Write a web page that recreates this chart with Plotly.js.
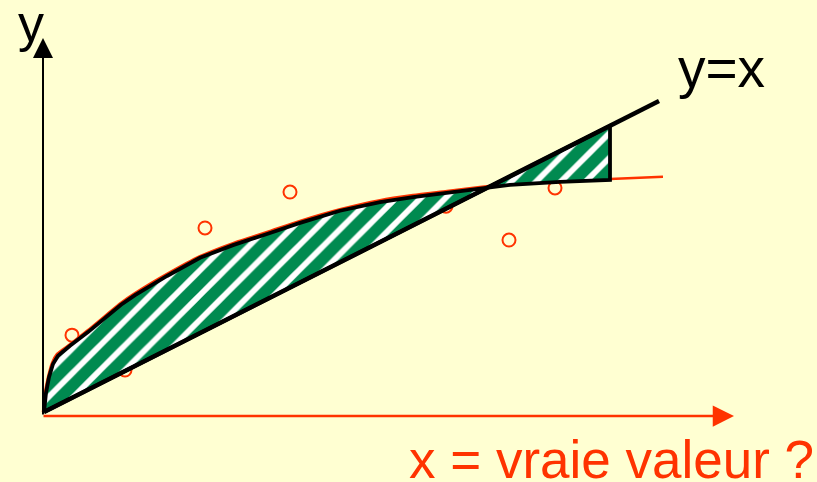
<!DOCTYPE html>
<html>
<head>
<meta charset="utf-8">
<script src="https://cdn.plot.ly/plotly-3.0.1.min.js"></script>
<style>html,body{margin:0;padding:0;background:#FFFFD2;}#chart{width:817px;height:482px;}</style>
</head>
<body>
<div id="chart"></div>
<script>
// Fitted curve (red) : x values and y values (units where the diagonal is y = x)
const curveX = [-1,1,4,8,13,26,44,61,77,91,123,156,189,223,256,296,336,369,403,436,466,516,566,619];
const curveY = [0,38,69,97,115,134,162,190,216,235,273,308,334,356,378,401,419,429,437,445,451,457,461,465];

// Upper edge of hatched area (outline of the curve)
const edgeX = [0,2,5,9,14,26,44,61,77,91,123,156,189,223,256,296,336,369,403,436,466,516,566];
const edgeY = [0,38,69,95,111,131,158,186,212,231,269,305,330,352,374,398,415,425,433,441,449,455,459];

// Measured points (open circles)
const pointsX = [28,81,161,246,402,465,511];
const pointsY = [152,83,364,435,407,340,443];

// Diagonal y = x
const diagX = [0,615];
const diagY = [0,615];

// Labels
const labelY = 'y';
const labelDiag = 'y=x';
const labelX = 'x = vraie valeur ?';

const RED = '#FF3300';
const GREEN = '#008A50';
const BG = '#FFFFD2';
const K = 615/311;

// hatched polygon: along the curve edge, then back along the diagonal
const polyX = edgeX.concat([edgeX[edgeX.length-1], 0]);
const polyY = edgeY.concat([edgeX[edgeX.length-1], 0]);

const traces = [
  {x: pointsX, y: pointsY, mode:'markers', type:'scatter',
   marker:{symbol:'circle-open', size:13, color:RED, line:{width:2, color:RED}}},
  {x: curveX, y: curveY, mode:'lines', type:'scatter', line:{color:RED, width:2.5, shape:'spline', smoothing:0.6}},
  {x: polyX, y: polyY, mode:'lines', type:'scatter', fill:'toself', fillcolor:GREEN,
   fillpattern:{shape:'/', size:17.5, solidity:0.33, bgcolor:GREEN, fgcolor:'#FFFFFF', fillmode:'replace'},
   line:{color:'#000000', width:3.8}},
  {x: diagX, y: diagY, mode:'lines', type:'scatter', line:{color:'#000000', width:4.5}}
];

const layout = {
  width:817, height:482,
  margin:{l:0,r:0,t:0,b:0},
  paper_bgcolor:BG, plot_bgcolor:BG,
  showlegend:false,
  hovermode:false,
  xaxis:{range:[-44,773], visible:false, fixedrange:true},
  yaxis:{range:[-70*K, 412*K], visible:false, fixedrange:true},
  font:{family:'Liberation Sans, Arial, sans-serif'},
  annotations:[
    // y axis with arrow
    {x:-1, y:374*K, ax:-1, ay:-4*K, xref:'x', yref:'y', axref:'x', ayref:'y',
     text:'', showarrow:true, arrowhead:2, arrowsize:2, arrowwidth:2, arrowcolor:'#000000'},
    // x axis with arrow
    {x:690, y:-4*K, ax:-2, ay:-4*K, xref:'x', yref:'y', axref:'x', ayref:'y',
     text:'', showarrow:true, arrowhead:2, arrowsize:1.7, arrowwidth:2.5, arrowcolor:RED},
    {x:30.5/817, y:1-23/482, xref:'paper', yref:'paper', xanchor:'center', yanchor:'middle',
     text:labelY, showarrow:false, font:{size:52, color:'#000000'}},
    {x:721/817, y:1-68/482, xref:'paper', yref:'paper', xanchor:'center', yanchor:'middle',
     text:labelDiag, showarrow:false, font:{size:55, color:'#000000'}},
    {x:611/817, y:1-459/482, xref:'paper', yref:'paper', xanchor:'center', yanchor:'middle',
     text:labelX, showarrow:false, font:{size:53, color:RED}}
  ]
};

Plotly.newPlot('chart', traces, layout, {staticPlot:true, displayModeBar:false});
</script>
</body>
</html>
